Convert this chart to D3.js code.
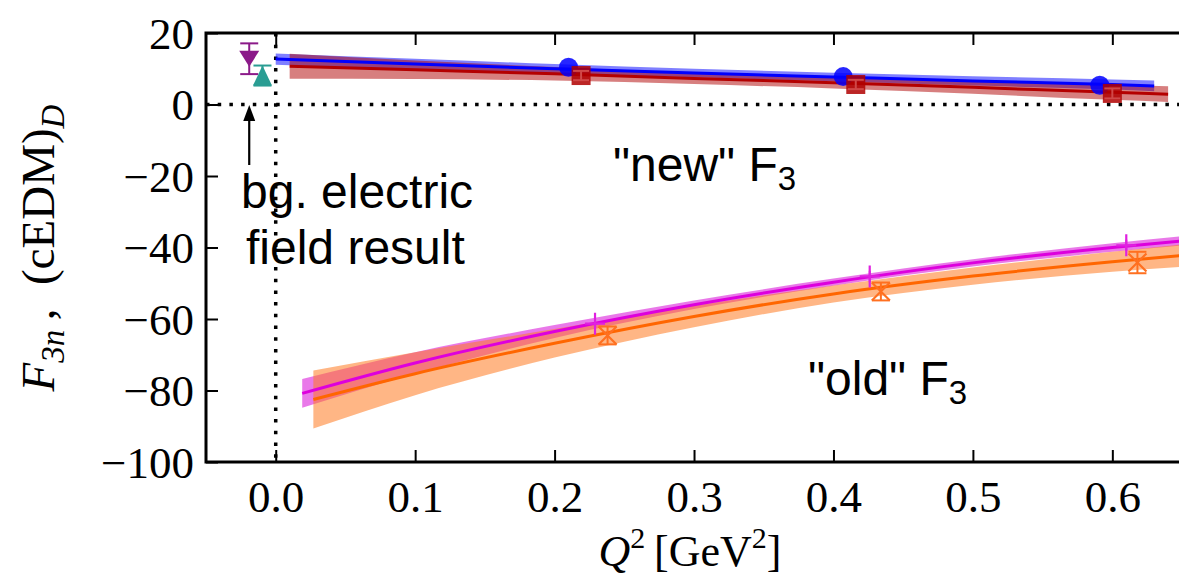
<!DOCTYPE html>
<html>
<head>
<meta charset="utf-8">
<script src="https://cdn.jsdelivr.net/npm/d3@7"></script>
<style>
  html, body { margin: 0; padding: 0; background: #fff; }
  svg { display: block; }
  .tick text { font-family: "Liberation Serif", serif; font-size: 45px; fill: #000; }
  .note { font-family: "Liberation Sans", Arial, sans-serif; font-size: 48px; fill: #000; }
</style>
</head>
<body>
<div id="chart"></div>
<script>

// axis ticks
const xTicks = [0.0, 0.1, 0.2, 0.3, 0.4, 0.5, 0.6];
const yTicks = [20, 0, -20, -40, -60, -80, -100];

// "new" F3 fit curves
const blueFitQ = [0.0, 0.1, 0.2, 0.3, 0.4, 0.5, 0.6, 0.63];
const blueFit = [12.7, 11.3, 10.0, 8.8, 7.7, 6.6, 5.6, 5.2];
const blueBand = [1.6, 1.5, 1.3, 1.2, 1.2, 1.3, 1.4, 1.5];

const redFitQ = [0.01, 0.1, 0.2, 0.3, 0.4, 0.5, 0.6, 0.64];
const redFit = [10.7, 9.7, 8.6, 7.3, 6.1, 4.8, 3.4, 2.9];
const redBand = [3.5, 2.6, 1.9, 1.6, 1.6, 1.8, 2.1, 2.2];

// "new" F3 data points
const blueQ = [0.21, 0.407, 0.591];
const blueVal = [10.4, 7.8, 5.4];
const redQ = [0.219, 0.416, 0.600];
const redVal = [8.1, 5.6, 3.1];
const redErr = [1.3, 1.3, 1.4];

// "old" F3 fit curves
const magFitQ = [0.019, 0.1, 0.2, 0.3, 0.4, 0.5, 0.6, 0.66];
const magFit = [-80.8, -72.3, -63.5, -56.0, -49.7, -44.3, -40.0, -37.8];
const magBand = [4.0, 3.0, 1.8, 1.2, 1.0, 1.0, 1.2, 1.3];

const orgFitQ = [0.027, 0.1, 0.2, 0.3, 0.4, 0.5, 0.6, 0.66];
const orgFit = [-82.5, -75.3, -66.8, -59.3, -53.0, -48.0, -44.0, -41.9];
const orgBand = [8.1, 6.0, 4.0, 3.0, 2.4, 2.4, 2.8, 3.2];

// "old" F3 data points
const magQ = [0.229, 0.426, 0.610];
const magVal = [-61.3, -48.1, -39.4];
const magErr = [1.6, 1.6, 1.6];
const orgQ = [0.238, 0.434, 0.618];
const orgVal = [-64.6, -52.3, -44.2];
const orgErr = [2.5, 2.5, 3.0];

// background electric field results (Q^2 = 0)
const bgQ = [-0.019, -0.0095];
const bgVal = [12.8, 8.1];
const bgErr = [4.3, 2.8];

// layout
const W = 1179, H = 578;
const margin = {left: 206, top: 33, right: 1196, bottom: 462};

const svg = d3.select("#chart").append("svg")
    .attr("width", W)
    .attr("height", H);

const x = d3.scaleLinear().domain([-0.05, 0.66]).range([margin.left, margin.right]);
const y = d3.scaleLinear().domain([-100, 20]).range([margin.bottom, margin.top]);

const plot = svg.append("g");

// dotted zero lines
plot.append("line")
    .attr("x1", x(0)).attr("x2", x(0))
    .attr("y1", y(20)).attr("y2", y(-100))
    .attr("stroke", "#000").attr("stroke-width", 3.5)
    .attr("stroke-dasharray", "3.5,8.2");
plot.append("line")
    .attr("x1", x(-0.05)).attr("x2", x(0.66))
    .attr("y1", y(0)).attr("y2", y(0))
    .attr("stroke", "#000").attr("stroke-width", 3.5)
    .attr("stroke-dasharray", "3.5,8.2");

// helpers for bands and lines
function band(qs, vals, half) {
    return d3.area()
        .x((d, i) => x(qs[i]))
        .y0((d, i) => y(vals[i] - half[i]))
        .y1((d, i) => y(vals[i] + half[i]))
        .curve(d3.curveMonotoneX)(vals);
}
function fitLine(qs, vals) {
    return d3.line()
        .x((d, i) => x(qs[i]))
        .y(d => y(d))
        .curve(d3.curveMonotoneX)(vals);
}

// "old" bands and lines
plot.append("path").attr("d", band(magFitQ, magFit, magBand))
    .attr("fill", "#e040e0").attr("fill-opacity", 0.7);
plot.append("path").attr("d", band(orgFitQ, orgFit, orgBand))
    .attr("fill", "#ff7a20").attr("fill-opacity", 0.55);
plot.append("path").attr("d", fitLine(orgFitQ, orgFit))
    .attr("fill", "none").attr("stroke", "#ff6600").attr("stroke-width", 3);
plot.append("path").attr("d", fitLine(magFitQ, magFit))
    .attr("fill", "none").attr("stroke", "#dd00dd").attr("stroke-width", 3);

// "new" bands and lines
plot.append("path").attr("d", band(blueFitQ, blueFit, blueBand))
    .attr("fill", "#0000ff").attr("fill-opacity", 0.5);
plot.append("path").attr("d", band(redFitQ, redFit, redBand))
    .attr("fill", "#b00000").attr("fill-opacity", 0.5);
plot.append("path").attr("d", fitLine(blueFitQ, blueFit))
    .attr("fill", "none").attr("stroke", "#0000ff").attr("stroke-width", 3);
plot.append("path").attr("d", fitLine(redFitQ, redFit))
    .attr("fill", "none").attr("stroke", "#b40000").attr("stroke-width", 3);

// error bar with caps
function errBar(g, q, v, e, color, cap) {
    g.append("line")
        .attr("x1", x(q)).attr("x2", x(q))
        .attr("y1", y(v - e)).attr("y2", y(v + e))
        .attr("stroke", color).attr("stroke-width", 2);
    [v - e, v + e].forEach(function(t) {
        g.append("line")
            .attr("x1", x(q) - cap).attr("x2", x(q) + cap)
            .attr("y1", y(t)).attr("y2", y(t))
            .attr("stroke", color).attr("stroke-width", 2);
    });
}

const marks = svg.append("g");

// blue circles
marks.selectAll(".bc")
    .data(blueQ)
    .enter().append("circle")
    .attr("cx", d => x(d))
    .attr("cy", (d, i) => y(blueVal[i]))
    .attr("r", 9.5)
    .attr("fill", "#0000ff").attr("fill-opacity", 0.85);

// red squares
redQ.forEach(function(q, i) {
    marks.append("rect")
        .attr("x", x(q) - 9.5).attr("y", y(redVal[i]) - 9.5)
        .attr("width", 19).attr("height", 19)
        .attr("fill", "#b00000").attr("fill-opacity", 0.85);
    errBar(marks, q, redVal[i], redErr[i], "#d04848", 8);
});

// magenta plus markers
magQ.forEach(function(q, i) {
    errBar(marks, q, magVal[i], magErr[i], "#e020e0", 0);
    marks.append("path")
        .attr("d", `M${x(q) - 10},${y(magVal[i])}h20M${x(q)},${y(magVal[i]) - 11}v22`)
        .attr("stroke", "#e020e0").attr("stroke-width", 2.2).attr("fill", "none");
});

// orange x markers
orgQ.forEach(function(q, i) {
    errBar(marks, q, orgVal[i], orgErr[i], "#ff7020", 9);
    const cx = x(q), cy = y(orgVal[i]);
    marks.append("path")
        .attr("d", `M${cx - 9},${cy - 9}L${cx + 9},${cy + 9}M${cx - 9},${cy + 9}L${cx + 9},${cy - 9}`)
        .attr("stroke", "#ff7020").attr("stroke-width", 2.2).attr("fill", "none");
});

// background field points
const bgColors = ["#8b1a89", "#2a9d93"];
bgQ.forEach(function(q, i) {
    errBar(marks, q, bgVal[i], bgErr[i], bgColors[i], 9);
    const tri = i === 0 ? "M-10,-8L10,-8L0,8Z" : "M0,-10L9.5,10L-9.5,10Z";
    marks.append("path")
        .attr("d", tri)
        .attr("transform", `translate(${x(q)},${y(bgVal[i])})`)
        .attr("fill", bgColors[i]);
});

// arrow
marks.append("line")
    .attr("x1", x(-0.019)).attr("x2", x(-0.019))
    .attr("y1", 165).attr("y2", 116)
    .attr("stroke", "#000").attr("stroke-width", 2.2);
marks.append("path")
    .attr("d", `M${x(-0.019)},105L${x(-0.019) - 6},121L${x(-0.019) + 6},121Z`)
    .attr("fill", "#000");

// axes with inward ticks
const axB = svg.append("g")
    .attr("transform", `translate(0,${margin.bottom})`)
    .call(d3.axisBottom(x).tickValues(xTicks).tickSize(-12).tickPadding(18).tickFormat(d3.format(".1f")));
const axT = svg.append("g")
    .attr("transform", `translate(0,${margin.top})`)
    .call(d3.axisTop(x).tickValues(xTicks).tickSize(-12).tickFormat(""));
const axL = svg.append("g")
    .attr("transform", `translate(${margin.left},0)`)
    .call(d3.axisLeft(y).tickValues(yTicks).tickSize(-12).tickPadding(12).tickFormat(d3.format("d")));
const axR = svg.append("g")
    .attr("transform", `translate(${margin.right},0)`)
    .call(d3.axisRight(y).tickValues(yTicks).tickSize(-12).tickFormat(""));

[axB, axT, axL, axR].forEach(function(a) {
    a.select(".domain").remove();
    a.selectAll(".tick line").attr("stroke", "#000").attr("stroke-width", 2);
});
axL.selectAll(".tick text").attr("dy", "0.34em");

// frame
svg.append("rect")
    .attr("x", margin.left).attr("y", margin.top)
    .attr("width", margin.right - margin.left)
    .attr("height", margin.bottom - margin.top)
    .attr("fill", "none").attr("stroke", "#000").attr("stroke-width", 3);

// annotations
const t1 = svg.append("text").attr("class", "note").attr("x", 613).attr("y", 181);
t1.append("tspan").text("\"new\" F");
t1.append("tspan").attr("font-size", 33).attr("dy", 9).text("3");

const t2 = svg.append("text").attr("class", "note").attr("x", 808).attr("y", 395);
t2.append("tspan").text("\"old\" F");
t2.append("tspan").attr("font-size", 33).attr("dy", 9).text("3");

svg.append("text").attr("class", "note").attr("x", 241).attr("y", 208).text("bg. electric");
svg.append("text").attr("class", "note").attr("x", 246).attr("y", 264).text("field result");

// axis labels
const xl = svg.append("text")
    .attr("x", 690).attr("y", 566)
    .attr("text-anchor", "middle")
    .attr("font-family", "Liberation Serif, serif")
    .attr("font-size", 44);
xl.append("tspan").attr("font-style", "italic").text("Q");
xl.append("tspan").attr("font-size", 30).attr("dy", -18).text("2");
xl.append("tspan").attr("dy", 18).text("\u2009[GeV");
xl.append("tspan").attr("font-size", 30).attr("dy", -18).text("2");
xl.append("tspan").attr("dy", 18).text("]");

const yl = svg.append("text")
    .attr("transform", "translate(54,248) rotate(-90)")
    .attr("text-anchor", "middle")
    .attr("font-family", "Liberation Serif, serif")
    .attr("font-size", 47);
yl.append("tspan").attr("font-style", "italic").text("F");
yl.append("tspan").attr("font-style", "italic").attr("font-size", 33).attr("dy", 10).text("3n");
yl.append("tspan").attr("dy", -10).text("\u2009,\u2002(cEDM)");
yl.append("tspan").attr("font-style", "italic").attr("font-size", 33).attr("dy", 10).text("D");

</script>
</body>
</html>
